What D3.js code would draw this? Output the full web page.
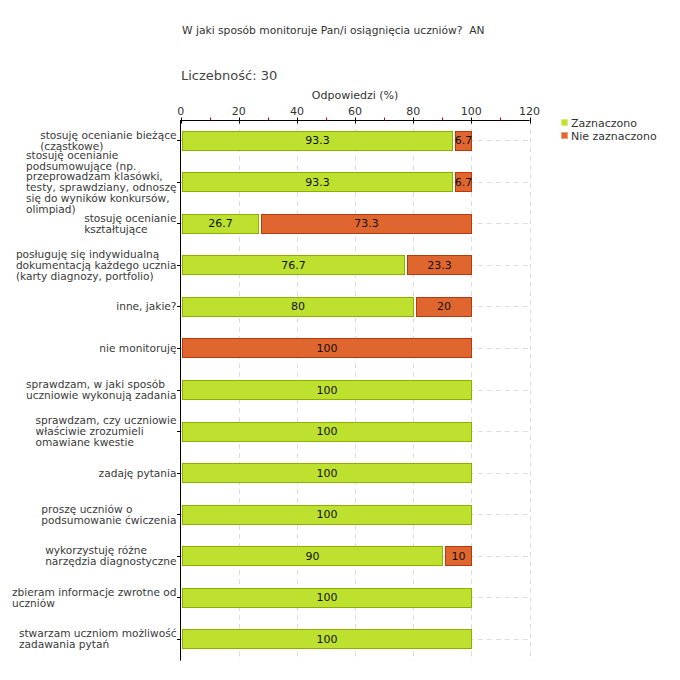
<!DOCTYPE html>
<html><head><meta charset="utf-8">
<script src="https://cdn.jsdelivr.net/npm/d3@7/dist/d3.min.js"></script>
<style>body{margin:0;background:#fff}svg{display:block}text{font-family:"DejaVu Sans",Verdana,sans-serif;white-space:pre}</style>
</head><body><svg id="c" width="680" height="680"></svg>
<script>
const categories = [
  "stosuję ocenianie bieżące\n(cząstkowe)",
  "stosuję ocenianie\npodsumowujące (np.\nprzeprowadzam klasówki,\ntesty, sprawdziany, odnoszę\nsię do wyników konkursów,\nolimpiad)",
  "stosuję ocenianie\nkształtujące",
  "posługuję się indywidualną\ndokumentacją każdego ucznia\n(karty diagnozy, portfolio)",
  "inne, jakie?",
  "nie monitoruję",
  "sprawdzam, w jaki sposób\nuczniowie wykonują zadania",
  "sprawdzam, czy uczniowie\nwłaściwie zrozumieli\nomawiane kwestie",
  "zadaję pytania",
  "proszę uczniów o\npodsumowanie ćwiczenia",
  "wykorzystuję różne\nnarzędzia diagnostyczne",
  "zbieram informacje zwrotne od\nuczniów",
  "stwarzam uczniom możliwość\nzadawania pytań"
];
const seriesNames = ["Zaznaczono", "Nie zaznaczono"];
const zaznaczono    = [93.3, 93.3, 26.7, 76.7, 80, 0, 100, 100, 100, 100, 90, 100, 100];
const nieZaznaczono = [6.7, 6.7, 73.3, 23.3, 20, 100, 0, 0, 0, 0, 10, 0, 0];
const xTicks = [0, 20, 40, 60, 80, 100, 120];
const xMinorTicks = [10, 30, 50, 70, 90, 110];
const title = "W jaki sposób monitoruje Pan/i osiągnięcia uczniów?  AN";
const countLabel = "Liczebność: 30";
const axisTitle = "Odpowiedzi (%)";

(function () {
const fills = ["#bee12f", "#e0662f"];
const strokes = ["#8fae00", "#b83a0c"];

const svg = d3.select("#c");
const x = d3.scaleLinear().domain([0, 120]).range([180.7, 529.5]);
const y = d3.scaleBand().domain(categories.map((d, i) => i)).range([119.5, 659.5]);
const plotTop = 120, plotBottom = 660.7;
const px = v => Math.round(x(v));

svg.append("text").attr("x", 182).attr("y", 34).attr("font-size", 10.7).attr("fill", "#333").text(title);
svg.append("text").attr("x", 181).attr("y", 80).attr("font-size", 13).attr("fill", "#444").text(countLabel);
svg.append("text").attr("x", (x(0) + x(120)) / 2).attr("y", 99).attr("text-anchor", "middle")
  .attr("font-size", 11).attr("fill", "#333").text(axisTitle);

const cyOf = i => Math.round(y(i) + y.bandwidth() / 2) + 0.5;

svg.append("g").selectAll("line").data(xTicks.filter(d => d > 0)).join("line")
  .attr("x1", d => px(d) + 0.5).attr("x2", d => px(d) + 0.5).attr("y1", plotTop).attr("y2", plotBottom)
  .attr("stroke", "#ddd").attr("stroke-dasharray", "5,4");
svg.append("g").selectAll("line").data(categories.map((d, i) => i)).join("line")
  .attr("x1", x(0)).attr("x2", x(120))
  .attr("y1", cyOf).attr("y2", cyOf)
  .attr("stroke", "#ddd").attr("stroke-dasharray", "5,4");

const rows = categories.map((c, i) => {
  const vals = [zaznaczono[i], nieZaznaczono[i]];
  let acc = 0;
  return vals.map((v, k) => { const s = acc; acc += v; return {i, k, s, e: acc, v}; }).filter(d => d.v > 0);
});
const segs = rows.flat();
const bh = 19;
const x0 = d => px(d.s) + (d.s > 0 ? 3 : 1);
const g = svg.append("g");
g.selectAll("rect").data(segs).join("rect")
  .attr("x", d => x0(d) + 0.5)
  .attr("width", d => px(d.e) - x0(d))
  .attr("y", d => Math.round(y(d.i) + y.bandwidth() / 2 - bh / 2) + 0.5)
  .attr("height", bh)
  .attr("fill", d => fills[d.k]).attr("stroke", d => strokes[d.k]).attr("stroke-width", 1);
g.selectAll("text").data(segs).join("text")
  .attr("x", d => (x0(d) + px(d.e)) / 2 + 0.5)
  .attr("y", d => y(d.i) + y.bandwidth() / 2 + 4)
  .attr("text-anchor", "middle").attr("font-size", 11).attr("fill", "#111")
  .text(d => d.v);

const ax = svg.append("g").attr("transform", `translate(0,${plotTop + 0.5})`);
ax.append("line").attr("x1", x(0)).attr("x2", x(120)).attr("stroke", "#000");
ax.selectAll("line.maj").data(xTicks).join("line").attr("class", "maj")
  .attr("x1", d => px(d) + 0.5).attr("x2", d => px(d) + 0.5).attr("y1", -3).attr("y2", 3).attr("stroke", "#000");
ax.selectAll("line.min").data(xMinorTicks).join("line").attr("class", "min")
  .attr("x1", d => px(d) + 0.5).attr("x2", d => px(d) + 0.5).attr("y1", -3).attr("y2", 0).attr("stroke", "#e00000");
ax.selectAll("text").data(xTicks).join("text")
  .attr("x", d => x(d)).attr("y", -5.5).attr("text-anchor", "middle")
  .attr("font-size", 11).attr("fill", "#333").text(d => d);

const ay = svg.append("g");
ay.append("line").attr("x1", 180.5).attr("x2", 180.5).attr("y1", plotTop).attr("y2", plotBottom).attr("stroke", "#000");
ay.selectAll("line.t").data(categories.map((d, i) => i)).join("line").attr("class", "t")
  .attr("x1", 177).attr("x2", 180.5)
  .attr("y1", cyOf).attr("y2", cyOf)
  .attr("stroke", "#000");
const lh = 10.8;
categories.forEach((c, i) => {
  const lines = c.split("\n");
  const cy = y(i) + y.bandwidth() / 2;
  const t = ay.append("text").attr("font-size", 10.6).attr("fill", "#3a3a3a");
  const spans = lines.map((l, j) => t.append("tspan").attr("y", cy - (lines.length - 1) * lh / 2 + j * lh + 4).text(l));
  const w = d3.max(spans, s => s.node().getComputedTextLength());
  spans.forEach(s => s.attr("x", 176.5 - w));
});

const lg = svg.append("g");
seriesNames.forEach((n, k) => {
  lg.append("rect").attr("x", 561.5).attr("y", 119.5 + k * 13).attr("width", 6).attr("height", 6)
    .attr("fill", fills[k]).attr("stroke", k ? "#f0a080" : "#d8ee80");
  lg.append("text").attr("x", 571).attr("y", 127 + k * 13).attr("font-size", 11).attr("fill", "#333").text(n);
});
})();
</script></body></html>
